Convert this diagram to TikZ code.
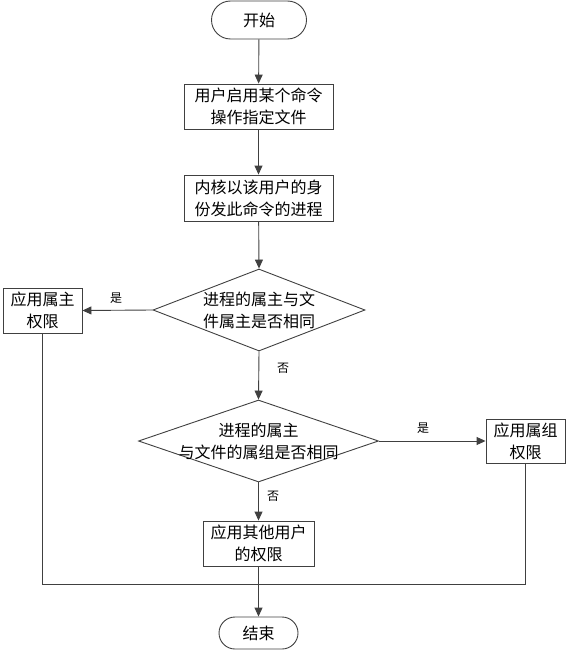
\documentclass[tikz,border=0pt]{standalone}
\usepackage{fontspec}
\setmainfont{Noto Sans CJK SC}
\usetikzlibrary{shapes.geometric,arrows.meta}
\definecolor{ln}{gray}{0.25}
\tikzset{
  base/.style={draw=ln, line width=0.9pt, font=\fontsize{16}{22}\selectfont, align=center, inner sep=0pt},
  term/.style={base, rectangle, rounded corners=#1},
  procbox/.style={base, rectangle},
  dia/.style={draw=ln, line width=0.9pt, diamond, inner sep=0pt},
  dtext/.style={font=\fontsize{16}{22}\selectfont, align=center, inner sep=0pt},
  lab/.style={font=\fontsize{12}{14}\selectfont, inner sep=0pt},
  conn/.style={draw=ln, line width=0.9pt},
  arr/.style={conn, -{Triangle[length=9pt,width=8pt]}}
}
\begin{document}
\begin{tikzpicture}[x=1pt,y=-1pt]
\useasboundingbox (0,0) rectangle (568,650);
\node[term=19pt, minimum width=95pt, minimum height=38pt] (start) at (259,20) {开始};
\node[procbox, minimum width=149pt, minimum height=45pt] (b1) at (258.5,106.5) {用户启用某个命令\\操作指定文件};
\node[procbox, minimum width=149pt, minimum height=46pt] (b2) at (258.5,198) {内核以该用户的身\\份发此命令的进程};
\node[dia, minimum width=212pt, minimum height=82pt] (d1) at (259,310) {};
\node[dtext] (t1) at (d1.center) {进程的属主与文\\件属主是否相同};
\node[procbox, minimum width=79pt, minimum height=45pt] (own) at (42.5,310.5) {应用属主\\权限};
\node[dia, minimum width=240pt, minimum height=82pt] (d2) at (258.5,441) {};
\node[dtext] (t2) at (d2.center) {进程的属主\\与文件的属组是否相同};
\node[procbox, minimum width=79pt, minimum height=44pt] (grp) at (525.5,441) {应用属组\\权限};
\node[procbox, minimum width=111pt, minimum height=45pt] (oth) at (258.5,543.5) {应用其他用户\\的权限};
\node[term=16pt, minimum width=79pt, minimum height=32pt] (end) at (258.5,633) {结束};
\coordinate (mL) at (own.south |- 0,584);
\coordinate (mR) at (grp.south |- 0,584);
\coordinate (mC) at (oth.south |- 0,584);
\draw[arr] (start) -- (b1);
\draw[arr] (b1) -- (b2);
\draw[arr] (b2) -- (d1.north);
\draw[arr] (d1.west) -- (own.east);
\node[lab] (y1) at (116,298) {是};
\draw[arr] (d1.south) -- (d2.north);
\node[lab] (n1) at (283,368) {否};
\draw[arr] (d2.east) -- (grp.west);
\node[lab] (y2) at (423,428) {是};
\draw[arr] (d2.south) -- (oth.north);
\node[lab] (n2) at (273,496) {否};
\draw[conn] (own.south) -- (mL) -- (mC);
\draw[conn] (grp.south) -- (mR) -- (mC);
\draw[arr] (oth.south) -- (end.north);
\end{tikzpicture}
\end{document}
